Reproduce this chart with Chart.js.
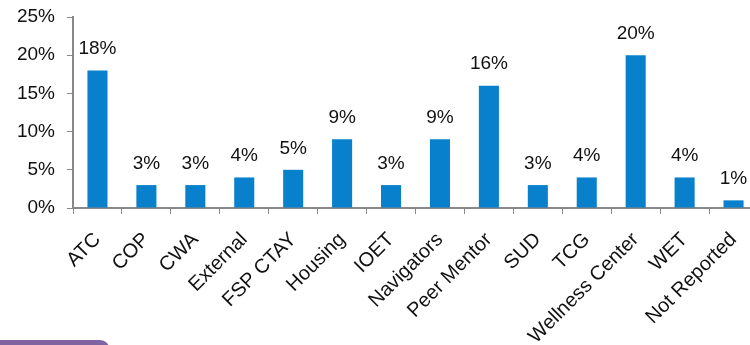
<!DOCTYPE html>
<html>
<head>
<meta charset="utf-8">
<script src="https://cdn.jsdelivr.net/npm/chart.js@4.4.0/dist/chart.umd.min.js"></script>
<style>
    html, body { margin: 0; padding: 0; background: #fff; overflow: hidden; }
    #wrap { position: relative; width: 770px; height: 345px; }
    #tab { position: absolute; left: -12px; top: 340px; width: 122px; height: 20px; border-radius: 10px; background: #8064a2; }
</style>
</head>
<body>
<div id="wrap">
    <canvas id="Wykres_1"></canvas>
    <div id="tab"></div>
</div>
<script>
const categories = ['ATC', 'COP', 'CWA', 'External', 'FSP CTAY', 'Housing', 'IOET', 'Navigators',
    'Peer Mentor', 'SUD', 'TCG', 'Wellness Center', 'WET', 'Not Reported'];
const percentValues = [18, 3, 3, 4, 5, 9, 3, 9, 16, 3, 4, 20, 4, 1];
const yTicks = [0, 5, 10, 15, 20, 25];

const fontFamily = '"Liberation Sans", Arial, sans-serif';

// labels above the bars
const barLabels = {
    id: 'barLabels',
    afterDatasetsDraw(chart) {
        const ctx = chart.ctx;
        const meta = chart.getDatasetMeta(0);
        ctx.save();
        ctx.font = '19px ' + fontFamily;
        ctx.fillStyle = '#111';
        ctx.textAlign = 'center';
        ctx.textBaseline = 'bottom';
        meta.data.forEach(function(bar, i) {
            ctx.fillText(percentValues[i] + '%', bar.x, bar.y - 12);
        });
        ctx.restore();
    }
};

const ctx = document.getElementById('Wykres_1').getContext('2d');
new Chart(ctx, {
    type: 'bar',
    data: {
        labels: categories,
        datasets: [{
            data: percentValues,
            backgroundColor: '#0880cc',
            barPercentage: 0.41,
            categoryPercentage: 1
        }]
    },
    options: {
        responsive: true,
        maintainAspectRatio: false,
        animation: false,
        layout: { padding: { top: 17, right: 12, left: 0, bottom: 0 } },
        plugins: {
            legend: { display: false },
            tooltip: { enabled: false }
        },
        scales: {
            x: {
                offset: true,
                grid: { display: true, drawOnChartArea: false, drawTicks: true, tickLength: 6, color: '#888', offset: true },
                border: { color: '#888', width: 2 },
                ticks: {
                    color: '#111',
                    font: { size: 20, family: fontFamily },
                    minRotation: 45,
                    maxRotation: 45,
                    autoSkip: false,
                    padding: 14
                },
                afterFit: function(s) { s.height = 137; s.paddingTop = 0; }
            },
            y: {
                min: 0,
                max: 25,
                afterBuildTicks: function(s) { s.ticks = yTicks.map(v => ({ value: v })); },
                grid: { display: true, drawOnChartArea: false, drawTicks: true, tickLength: 6, color: '#888' },
                border: { color: '#888', width: 2 },
                ticks: {
                    color: '#111',
                    font: { size: 19, family: fontFamily },
                    padding: 12,
                    callback: function(v) { return v + '%'; }
                },
                afterFit: function(s) { s.width = 73; s.paddingTop = 0; }
            }
        }
    },
    plugins: [barLabels]
});
</script>
</body>
</html>
